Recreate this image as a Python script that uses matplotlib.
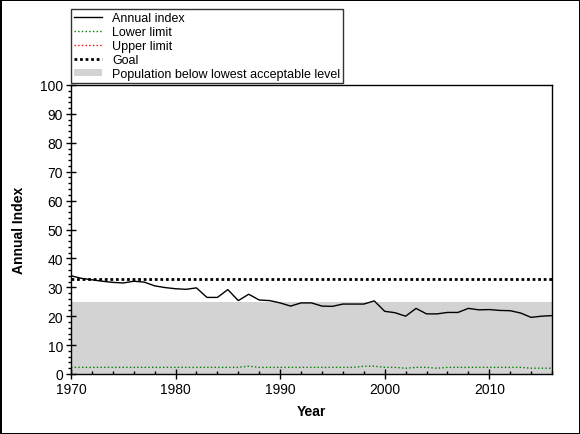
import numpy as np
import matplotlib
matplotlib.use('Agg')
from matplotlib import pyplot as plt
from matplotlib.patches import Patch
from matplotlib.lines import Line2D
from matplotlib.ticker import MultipleLocator

plt.rcParams['font.family'] = ['Liberation Sans', 'DejaVu Sans']

years = np.arange(1970, 2017)
annual_index = [34.0, 33.1, 32.6, 32.1, 31.7, 31.5, 32.1, 31.8, 30.5, 29.9,
                29.5, 29.3, 29.8, 26.5, 26.5, 29.2, 25.4, 27.6, 25.6, 25.4,
                24.6, 23.5, 24.6, 24.6, 23.5, 23.4, 24.2, 24.2, 24.2, 25.3,
                21.7, 21.2, 20.0, 22.7, 20.8, 20.8, 21.3, 21.3, 22.7, 22.2,
                22.3, 22.0, 21.9, 21.1, 19.6, 20.0, 20.2]
lower_limit = [2.3] * 17 + [2.7] + [2.3] * 10 + [2.7, 2.7] + [2.3, 2.3, 2.0, 2.3, 2.3, 2.0] + [2.3] * 8 + [2.0, 2.0, 2.0]
upper_limit_years = []
upper_limit = []
goal = 33
lowest_level = 25

goal_style = (0, (1, 1))

fig = plt.figure(figsize=(5.8, 4.35), dpi=100)
fig.patch.set_edgecolor('black')
fig.patch.set_linewidth(1)
ax = fig.add_axes([71/580, 1 - 375/435, (552 - 71)/580, (375 - 86)/435])

ax.fill_between(years, 0, lowest_level, color='#d3d3d3', lw=0)
ax.plot(years, lower_limit, color='green', ls=':', lw=1)
ax.plot(upper_limit_years, upper_limit, color='red', ls=':', lw=1)
ax.plot(years, [goal] * len(years), color='black', ls=goal_style, lw=2)
ax.plot(years, annual_index, color='black', lw=1)

ax.set_xlim(1970, 2016)
ax.set_ylim(0, 100)
ax.xaxis.set_major_locator(MultipleLocator(10))
ax.xaxis.set_minor_locator(MultipleLocator(2))
ax.yaxis.set_major_locator(MultipleLocator(10))
ax.yaxis.set_minor_locator(MultipleLocator(2))
ax.tick_params(axis='x', which='major', direction='inout', length=7.5, width=1, labelsize=10, pad=2)
ax.tick_params(axis='x', which='minor', direction='in', length=2.5, width=1)
ax.tick_params(axis='y', which='major', direction='inout', length=7.5, width=1, labelsize=10, pad=2)
ax.tick_params(axis='y', which='minor', direction='out', length=2.5, width=1)
for s in ax.spines.values():
    s.set_linewidth(1)

ax.set_xlabel('Year', fontsize=10, fontweight='bold', labelpad=6)
ax.set_ylabel('Annual Index', fontsize=10, fontweight='bold', labelpad=10)

handles = [Line2D([], [], color='black', lw=1),
           Line2D([], [], color='green', ls=':', lw=1),
           Line2D([], [], color='red', ls=':', lw=1),
           Line2D([], [], color='black', ls=goal_style, lw=2),
           Patch(facecolor='#d3d3d3', edgecolor='none')]
labels = ['Annual index', 'Lower limit', 'Upper limit', 'Goal',
          'Population below lowest acceptable level']
leg = fig.legend(handles, labels, loc='upper left',
                 bbox_to_anchor=(71/580, 1 - 10/435), fontsize=9,
                 frameon=True, fancybox=False, edgecolor='black',
                 borderpad=0.2, labelspacing=0.17, handlelength=2.3,
                 handleheight=0.5, handletextpad=0.8, borderaxespad=0)
leg.get_frame().set_linewidth(1)

fig.savefig('out.png', dpi=100, edgecolor=fig.get_edgecolor())
